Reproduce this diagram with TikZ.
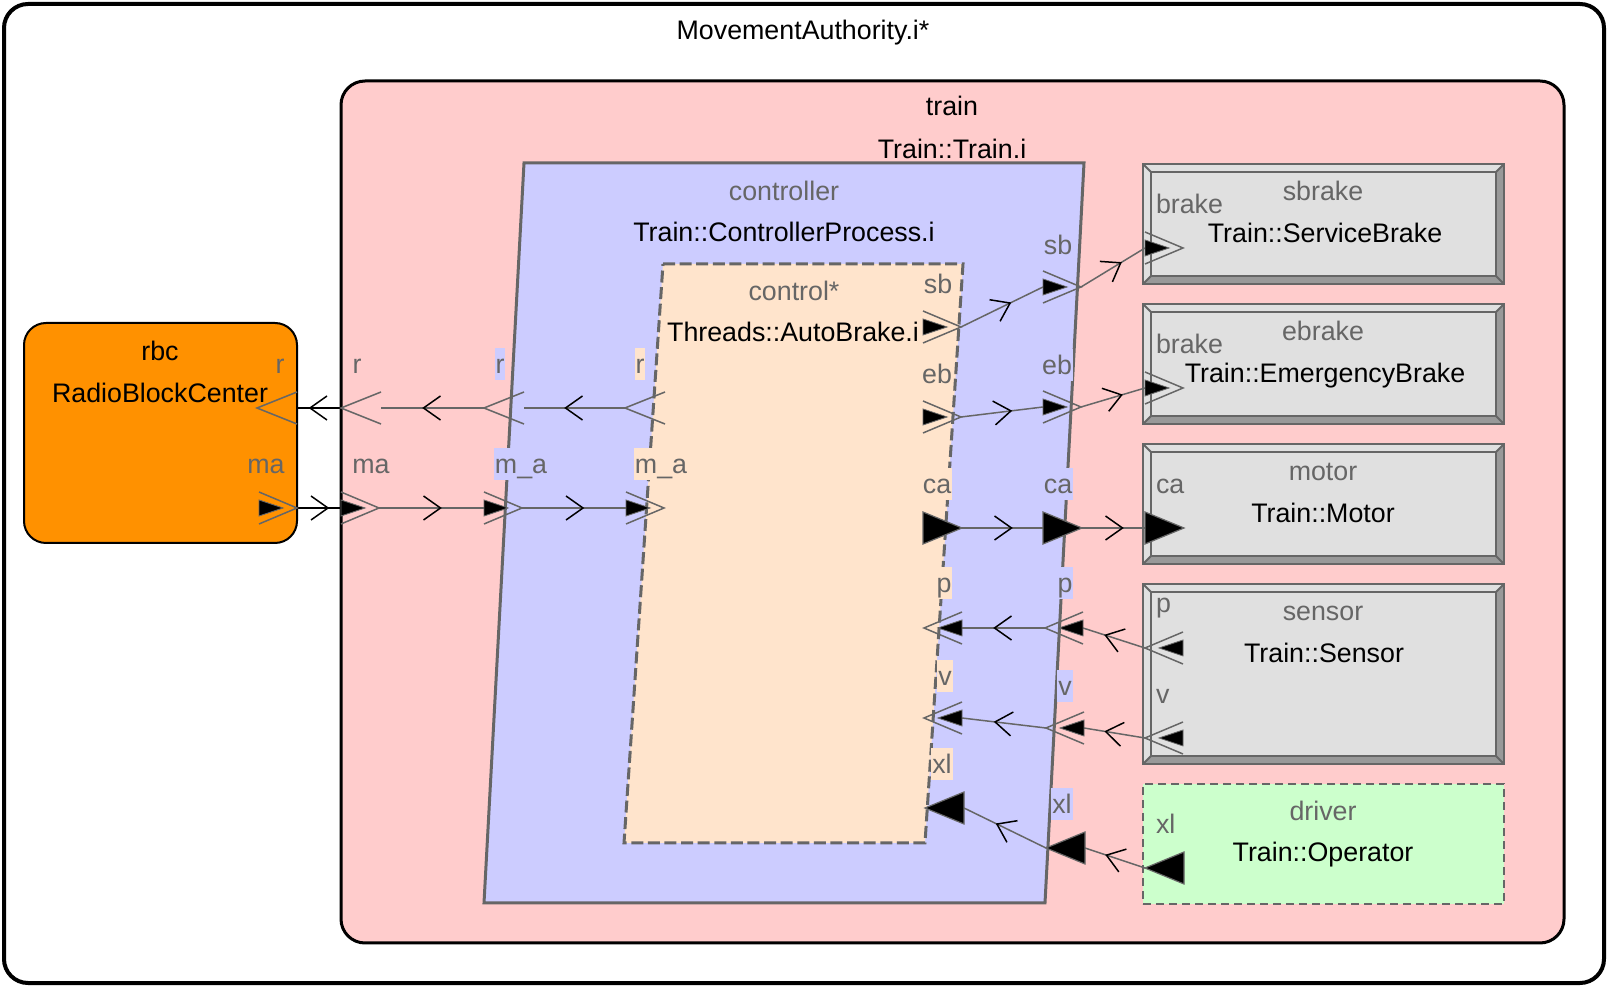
\documentclass[tikz,border=0pt]{standalone}
\usepackage{fontspec}
\setmainfont{Liberation Sans}
\usetikzlibrary{decorations.markings,calc}
\definecolor{grayline}{HTML}{666666}
\definecolor{labgray}{HTML}{666666}
\definecolor{trainpink}{HTML}{FFCCCC}
\definecolor{ctrlblue}{HTML}{CCCCFF}
\definecolor{thrbisque}{HTML}{FFE4CC}
\definecolor{rbcorange}{HTML}{FF9100}
\definecolor{boxgray}{HTML}{E0E0E0}
\definecolor{bevelgray}{HTML}{999999}
\definecolor{drvgreen}{HTML}{CCFFCC}
\newcommand{\bevelize}[1]{%
  \fill[bevelgray] (#1.south west) -- (#1.south east) -- ($(#1.south east)+(-8,-8)$) -- ($(#1.south west)+(8,-8)$) -- cycle;
  \fill[bevelgray] (#1.north east) -- (#1.south east) -- ($(#1.south east)+(-8,-8)$) -- ($(#1.north east)+(-8,8)$) -- cycle;
  \draw[grayline, line width=1pt] ($(#1.north west)+(8,8)$) rectangle ($(#1.south east)+(-8,-8)$);
  \draw[grayline, line width=1pt] (#1.north west) -- ++(8,8) (#1.north east) -- ++(-8,8)
       (#1.south west) -- ++(8,-8) (#1.south east) -- ++(-8,-8);
  \draw[grayline, line width=1pt] (#1.north west) rectangle (#1.south east);
}
\begin{document}
\begin{tikzpicture}[x=0.5pt,y=-0.5pt,
  every node/.style={font=\fontsize{13.4}{15}\selectfont, inner sep=0pt, outer sep=0pt},
  ttl/.style={text=black, text height=12.5pt, text depth=3pt},
  inst/.style={text=labgray, text height=12.5pt, text depth=3pt},
  plab/.style={text=labgray, text height=12.5pt, text depth=3pt, inner xsep=0.5pt, inner ysep=0.25pt},
  ctlab/.style={plab, fill=ctrlblue},
  thlab/.style={plab, fill=thrbisque},
  compbox/.style={draw=grayline, fill=boxgray, line width=1pt, rectangle, minimum width=180.5pt},
  conn/.style={draw=grayline, line width=0.75pt, postaction={decorate},
    decoration={markings, mark=at position 0.5 with {\draw[black, line width=0.75pt] (-8,-12) -- (9,0) -- (-8,12);}}},
  conntop/.style={conn, draw=black},
  evport/.pic={\draw[grayline, line width=0.75pt] (0,-16) -- (40,0) -- (0,16);},
  evdport/.pic={\draw[grayline, line width=0.75pt] (0,-16) -- (38,0) -- (0,16);
                \filldraw[fill=black, draw=grayline, line width=0.4pt] (0,-8) -- (24,0) -- (0,8) -- cycle;},
  dport/.pic={\filldraw[fill=black, draw=grayline, line width=0.6pt] (0,-16) -- (39,0) -- (0,16) -- cycle;}
]
\useasboundingbox (0,0) rectangle (1608,988);

% outer frame
\node[draw=black, fill=white, line width=2pt, rounded corners=12pt, minimum width=800pt, minimum height=489.5pt] (outer) at (804,493.5) {};
\node[ttl] (title) at (803,30) {MovementAuthority.i*};

% train
\node[draw=black, fill=trainpink, line width=1.5pt, rounded corners=12pt, minimum width=611.5pt, minimum height=431pt] (train) at (952.5,512) {};
\node[ttl] (trainname) at (952,106) {train};
\node[ttl] (traintype) at (952,149) {Train::Train.i};

% rbc
\node[draw=black, fill=rbcorange, line width=1pt, rounded corners=11pt, minimum width=136.5pt, minimum height=110pt] (rbc) at (160.5,433) {};
\node[ttl] (rbcname) at (160,351) {rbc};
\node[ttl] (rbctype) at (160,393) {RadioBlockCenter};

% controller process
\draw[grayline, fill=ctrlblue, line width=1.5pt] (524,163) coordinate (ctTL) -- (1084,163) coordinate (ctTR)
   -- (1045,903) coordinate (ctBR) -- (484,903) coordinate (ctBL) -- cycle;
\node[inst] (ctname) at (784,191) {controller};
\node[ttl] (cttype) at (784,232) {Train::ControllerProcess.i};

% control thread
\draw[grayline, fill=thrbisque, line width=1.5pt, dash pattern=on 6pt off 2.3pt] (663,264) coordinate (thTL) -- (963,264) coordinate (thTR)
   -- (925,843) coordinate (thBR) -- (624,843) coordinate (thBL) -- cycle;
\node[inst] (thname) at (794,291) {control*};
\node[ttl] (thtype) at (793,332) {Threads::AutoBrake.i};

% components
\node[compbox, minimum height=60pt] (sbrake) at (1323.5,224) {};
\bevelize{sbrake}
\node[compbox, minimum height=60pt] (ebrake) at (1323.5,364) {};
\bevelize{ebrake}
\node[compbox, minimum height=60pt] (motor) at (1323.5,504) {};
\bevelize{motor}
\node[compbox, minimum height=90pt] (sensor) at (1323.5,674) {};
\bevelize{sensor}
\node[draw=grayline, fill=drvgreen, line width=1pt, dash pattern=on 4pt off 2.5pt, minimum width=180.5pt, minimum height=60pt] (driver) at (1323.5,844) {};

\node[inst] (sbname) at (1323,191) {sbrake};
\node[ttl] (sbtype) at (1325,233) {Train::ServiceBrake};
\node[inst] (ebname) at (1323,331) {ebrake};
\node[ttl] (ebtype) at (1325,373) {Train::EmergencyBrake};
\node[inst] (moname) at (1323,471) {motor};
\node[ttl] (motype) at (1323,513) {Train::Motor};
\node[inst] (sename) at (1323,611) {sensor};
\node[ttl] (setype) at (1324,653) {Train::Sensor};
\node[inst] (drname) at (1323,811) {driver};
\node[ttl] (drtype) at (1323,852) {Train::Operator};

% port coordinates
\coordinate (rbc-r) at (297,408);   \coordinate (rbc-r-t) at (257,408);
\coordinate (tr-r) at (381,408);    \coordinate (tr-r-t) at (341,408);
\coordinate (ct-r) at (524,408);    \coordinate (ct-r-t) at (484,408);
\coordinate (th-r) at (665,408);    \coordinate (th-r-t) at (625,408);
\coordinate (rbc-ma) at (259,508);  \coordinate (rbc-ma-t) at (297,508);
\coordinate (tr-ma) at (341,508);   \coordinate (tr-ma-t) at (379,508);
\coordinate (ct-ma) at (484,508);   \coordinate (ct-ma-t) at (522,508);
\coordinate (th-ma) at (626,508);   \coordinate (th-ma-t) at (664,508);
\coordinate (th-sb) at (923,327);   \coordinate (th-sb-t) at (961,327);
\coordinate (ct-sb) at (1043,287);  \coordinate (ct-sb-t) at (1081,287);
\coordinate (sb-brake) at (1145,248);
\coordinate (th-eb) at (923,417);   \coordinate (th-eb-t) at (961,417);
\coordinate (ct-eb) at (1043,407);  \coordinate (ct-eb-t) at (1081,407);
\coordinate (eb-brake) at (1145,388);
\coordinate (th-ca) at (923,528);   \coordinate (th-ca-t) at (962,528);
\coordinate (ct-ca) at (1043,528);  \coordinate (ct-ca-t) at (1082,528);
\coordinate (mo-ca) at (1145,528);
\coordinate (se-p) at (1183,648);   \coordinate (se-p-t) at (1145,648);
\coordinate (ct-p) at (1083,628);   \coordinate (ct-p-t) at (1045,628);
\coordinate (th-p) at (962,628);
\coordinate (se-v) at (1183,738);   \coordinate (se-v-t) at (1145,738);
\coordinate (ct-v) at (1084,728);   \coordinate (ct-v-t) at (1046,728);
\coordinate (th-v) at (962,718);
\coordinate (dr-xl) at (1184,868);  \coordinate (dr-xl-t) at (1145,868);
\coordinate (ct-xl) at (1085,848);  \coordinate (ct-xl-t) at (1046,848);
\coordinate (th-xl) at (964,808);

% connections
\draw[conn] (th-r-t) -- (ct-r);
\draw[conn] (ct-r-t) -- (tr-r);
\draw[conntop] (tr-r-t) -- (rbc-r);
\draw[conntop] (rbc-ma-t) -- (tr-ma);
\draw[conn] (tr-ma-t) -- (ct-ma);
\draw[conn] (ct-ma-t) -- (th-ma);
\draw[conn] (th-sb-t) -- (ct-sb);
\draw[conn] (ct-sb-t) -- (sb-brake);
\draw[conn] (th-eb-t) -- (ct-eb);
\draw[conn] (ct-eb-t) -- (eb-brake);
\draw[conn] (th-ca-t) -- (ct-ca);
\draw[conn] (ct-ca-t) -- (mo-ca);
\draw[conn] (se-p-t) -- (ct-p);
\draw[conn] (ct-p-t) -- (th-p);
\draw[conn] (se-v-t) -- (ct-v);
\draw[conn] (ct-v-t) -- (th-v);
\draw[conn] (dr-xl-t) -- (ct-xl);
\draw[conn] (ct-xl-t) -- (th-xl);

% ports
\pic[rotate=180] at (rbc-r) {evport};
\pic[rotate=180] at (tr-r) {evport};
\pic[rotate=180] at (ct-r) {evport};
\pic[rotate=180] at (th-r) {evport};
\pic at (rbc-ma) {evdport};
\pic at (tr-ma) {evdport};
\pic at (ct-ma) {evdport};
\pic at (th-ma) {evdport};
\pic at (th-sb) {evdport};
\pic at (ct-sb) {evdport};
\pic at (sb-brake) {evdport};
\pic at (th-eb) {evdport};
\pic at (ct-eb) {evdport};
\pic at (eb-brake) {evdport};
\pic at (th-ca) {dport};
\pic at (ct-ca) {dport};
\pic at (mo-ca) {dport};
\pic[rotate=180] at (se-p) {evdport};
\pic[rotate=180] at (ct-p) {evdport};
\pic[rotate=180] at (th-p) {evdport};
\pic[rotate=180] at (se-v) {evdport};
\pic[rotate=180] at (ct-v) {evdport};
\pic[rotate=180] at (th-v) {evdport};
\pic[rotate=180] at (dr-xl) {dport};
\pic[rotate=180] at (ct-xl) {dport};
\pic[rotate=180] at (th-xl) {dport};

% port labels
\node[plab] (l-rbc-r) at (280,364) {r};
\node[plab] (l-rbc-ma) at (266,464) {ma};
\node[plab] (l-tr-r) at (357,364) {r};
\node[plab] (l-tr-ma) at (371,464) {ma};
\node[ctlab] (l-ct-r) at (500,364) {r};
\node[ctlab] (l-ct-ma) at (521,464) {m\_a};
\node[ctlab] (l-ct-sb) at (1058,245) {sb};
\node[ctlab] (l-ct-eb) at (1057,365) {eb};
\node[ctlab] (l-ct-ca) at (1058,484) {ca};
\node[ctlab] (l-ct-p) at (1065,583) {p};
\node[ctlab] (l-ct-v) at (1065,686) {v};
\node[ctlab] (l-ct-xl) at (1062,804) {xl};
\node[thlab] (l-th-r) at (640,364) {r};
\node[thlab] (l-th-ma) at (661,464) {m\_a};
\node[thlab] (l-th-sb) at (938,284) {sb};
\node[thlab] (l-th-eb) at (937,374) {eb};
\node[thlab] (l-th-ca) at (937,484) {ca};
\node[thlab] (l-th-p) at (944,583) {p};
\node[thlab] (l-th-v) at (945,676) {v};
\node[thlab] (l-th-xl) at (942,764) {xl};
\node[plab, anchor=west] (l-sb-brake) at (1155,204) {brake};
\node[plab, anchor=west] (l-eb-brake) at (1155,344) {brake};
\node[plab, anchor=west] (l-mo-ca) at (1155,484) {ca};
\node[plab, anchor=west] (l-se-p) at (1155,603) {p};
\node[plab, anchor=west] (l-se-v) at (1155,694) {v};
\node[plab, anchor=west] (l-dr-xl) at (1155,824) {xl};
\end{tikzpicture}
\end{document}
